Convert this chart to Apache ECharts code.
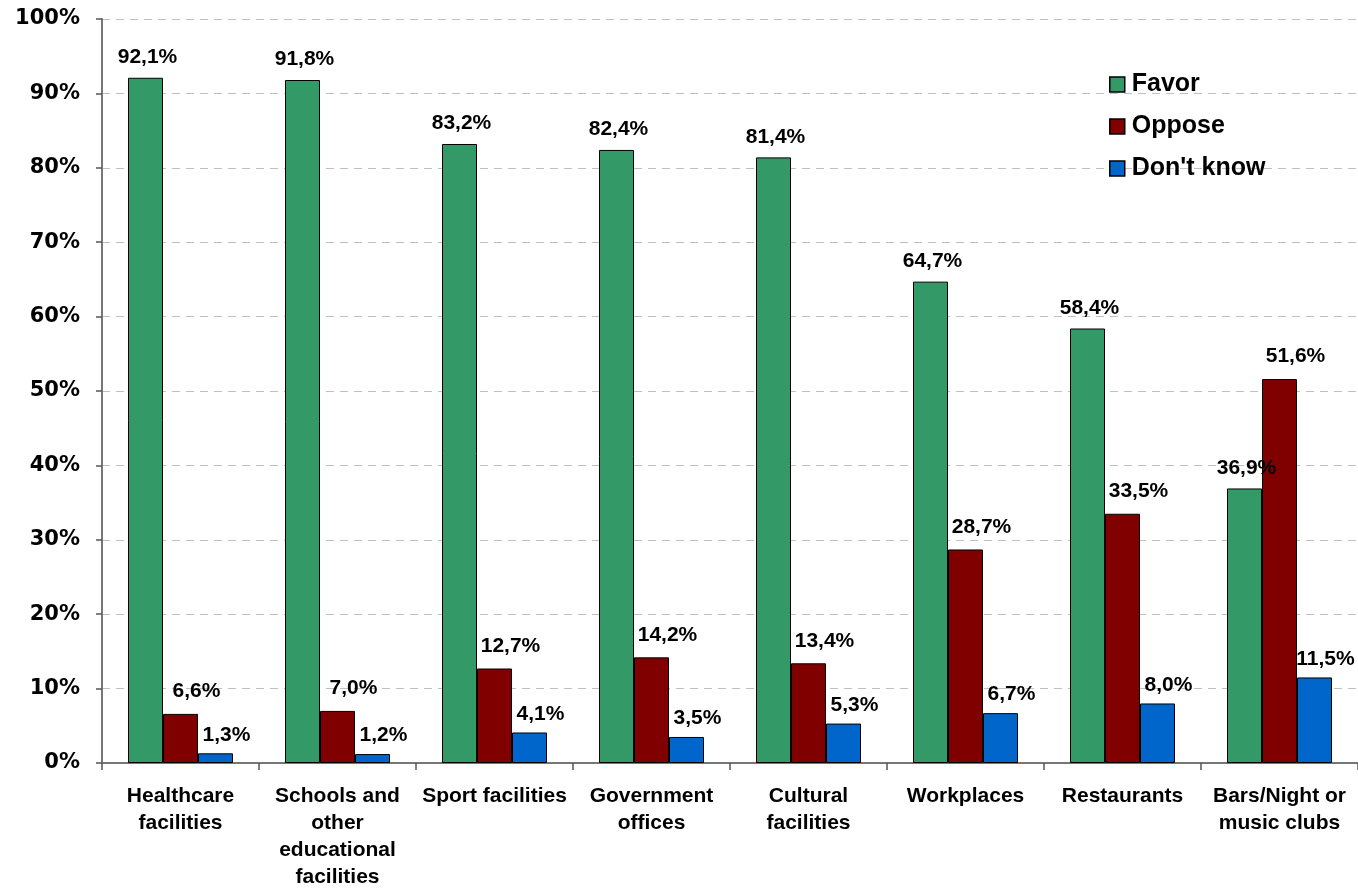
<!DOCTYPE html>
<html>
<head>
<meta charset="utf-8">
<script src="https://cdn.jsdelivr.net/npm/echarts@6/dist/echarts.min.js"></script>
<style>
  html, body { margin: 0; padding: 0; background: #fff; }
  #chart { width: 1358px; height: 891px; }
</style>
</head>
<body>
<div id="chart"></div>
<script>
// data
var categories = [
  "Healthcare\nfacilities",
  "Schools and\nother\neducational\nfacilities",
  "Sport facilities",
  "Government\noffices",
  "Cultural\nfacilities",
  "Workplaces",
  "Restaurants",
  "Bars/Night or\nmusic clubs"
];
var favor = [92.1, 91.8, 83.2, 82.4, 81.4, 64.7, 58.4, 36.9];
var oppose = [6.6, 7.0, 12.7, 14.2, 13.4, 28.7, 33.5, 51.6];
var dontKnow = [1.3, 1.2, 4.1, 3.5, 5.3, 6.7, 8.0, 11.5];
var seriesNames = ["Favor", "Oppose", "Don't know"];
var seriesColors = ["#339966", "#800000", "#0066cc"];

var chart = echarts.init(document.getElementById("chart"));

// label like 92,1%
function pct(p) {
  return p.value.toFixed(1).replace(".", ",") + "%";
}

function makeBar(name, data, color, off, dist) {
  return {
    name: name,
    type: "bar",
    data: data,
    barWidth: 35,
    barGap: "0%",
    itemStyle: { color: color, borderColor: "#000", borderWidth: 1 },
    label: {
      show: true,
      position: "top",
      distance: dist,
      offset: off,
      formatter: pct,
      color: "#000",
      fontFamily: "Liberation Sans, Arial, sans-serif",
      fontWeight: "bold",
      fontSize: 21
    }
  };
}

var option = {
  animation: false,
  backgroundColor: "#fff",
  grid: { left: 102, top: 19, height: 750, width: 1261, containLabel: false },
  legend: {
    orient: "vertical",
    left: 1104,
    top: 67,
    itemWidth: 15,
    itemHeight: 15,
    itemGap: 17,
    icon: "rect",
    data: seriesNames,
    itemStyle: { borderColor: "#000", borderWidth: 1.5 },
    textStyle: {
      fontFamily: "Liberation Sans, Arial, sans-serif",
      fontWeight: "bold",
      fontSize: 25,
      color: "#000",
      padding: [0, 0, 0, 2]
    }
  },
  xAxis: {
    type: "category",
    data: categories,
    axisLine: { show: true, lineStyle: { color: "#777", width: 2 } },
    axisTick: { show: true, alignWithLabel: false, length: 7, lineStyle: { color: "#555", width: 1.5 } },
    axisLabel: {
      interval: 0,
      margin: 20,
      lineHeight: 27,
      color: "#000",
      fontFamily: "Liberation Sans, Arial, sans-serif",
      fontWeight: "bold",
      fontSize: 21
    }
  },
  yAxis: {
    type: "value",
    min: 0,
    max: 100,
    interval: 10,
    axisLine: { show: true, lineStyle: { color: "#777", width: 2 } },
    axisTick: { show: true, length: 6, lineStyle: { color: "#555", width: 1.5 } },
    axisLabel: {
      formatter: "{value}%",
      margin: 22,
      color: "#000",
      fontFamily: "DejaVu Sans, sans-serif",
      fontWeight: "bold",
      fontSize: 21
    },
    splitLine: { show: true, lineStyle: { color: "#c0c0c0", type: [8, 6], width: 1 } }
  },
  series: [
    makeBar(seriesNames[0], favor, seriesColors[0], [2, 0], 10),
    makeBar(seriesNames[1], oppose, seriesColors[1], [16, 0], 12),
    makeBar(seriesNames[2], dontKnow, seriesColors[2], [11, 0], 8)
  ]
};

chart.setOption(option);
</script>
</body>
</html>
